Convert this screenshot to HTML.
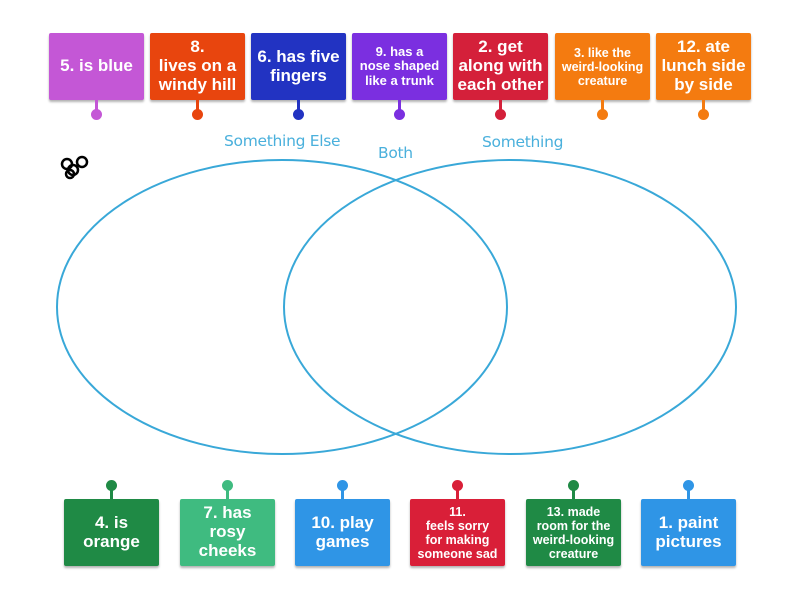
<!DOCTYPE html>
<html><head><style>
body{margin:0;width:800px;height:600px;background:#fff;position:relative;overflow:hidden;font-family:"Liberation Sans",sans-serif}
.c{position:absolute;width:95px;height:67px;color:#fff;font-weight:bold;display:flex;align-items:center;justify-content:center;text-align:center;border-radius:2px;box-shadow:0 2px 2px rgba(0,0,0,.3);line-height:1.1;font-size:17px}
.s{font-size:13px;line-height:1.12}
.xs{font-size:12.5px;line-height:1.12}
.p{position:absolute;width:3px;height:10px}
.d{position:absolute;width:11px;height:11px;border-radius:50%}
.l{position:absolute;color:#4ab0dc;font-size:15.5px;font-family:"DejaVu Sans",sans-serif;letter-spacing:-0.3px}
</style></head><body>
<svg width="800" height="600" style="position:absolute;left:0;top:0">
<ellipse cx="282" cy="307" rx="225" ry="147" fill="none" stroke="#39a8d8" stroke-width="2"/>
<ellipse cx="510" cy="307" rx="226" ry="147" fill="none" stroke="#39a8d8" stroke-width="2"/>
<g fill="none" stroke="#000" stroke-width="2.5"><circle cx="67" cy="164" r="5"/><circle cx="82" cy="162" r="5"/><circle cx="73" cy="170" r="5"/><circle cx="70" cy="174" r="4"/></g>
</svg>
<div class="l" style="left:224px;top:132px">Something Else</div>
<div class="l" style="left:378px;top:144px">Both</div>
<div class="l" style="left:482px;top:133px">Something</div>

<div class="c" style="left:49px;top:33px;background:#c457d6">5. is blue</div>
<div class="c" style="left:150px;top:33px;background:#e8450e">8.<br>lives on a<br>windy hill</div>
<div class="c" style="left:251px;top:33px;background:#2233c2">6. has five<br>fingers</div>
<div class="c s" style="left:352px;top:33px;background:#7b2fe0">9. has a<br>nose shaped<br>like a trunk</div>
<div class="c" style="left:453px;top:33px;background:#d4203a">2. get<br>along with<br>each other</div>
<div class="c xs" style="left:555px;top:33px;background:#f47b10">3. like the<br>weird-looking<br>creature</div>
<div class="c" style="left:656px;top:33px;background:#f47b10">12. ate<br>lunch side<br>by side</div>

<div class="p" style="left:95px;top:100px;background:#c457d6"></div><div class="d" style="left:91px;top:109px;background:#c457d6"></div>
<div class="p" style="left:196px;top:100px;background:#e8450e"></div><div class="d" style="left:192px;top:109px;background:#e8450e"></div>
<div class="p" style="left:297px;top:100px;background:#2233c2"></div><div class="d" style="left:293px;top:109px;background:#2233c2"></div>
<div class="p" style="left:398px;top:100px;background:#7b2fe0"></div><div class="d" style="left:394px;top:109px;background:#7b2fe0"></div>
<div class="p" style="left:499px;top:100px;background:#d4203a"></div><div class="d" style="left:495px;top:109px;background:#d4203a"></div>
<div class="p" style="left:601px;top:100px;background:#f47b10"></div><div class="d" style="left:597px;top:109px;background:#f47b10"></div>
<div class="p" style="left:702px;top:100px;background:#f47b10"></div><div class="d" style="left:698px;top:109px;background:#f47b10"></div>

<div class="c" style="left:64px;top:499px;background:#1f8a45">4. is<br>orange</div>
<div class="c" style="left:180px;top:499px;background:#3fbb80">7. has<br>rosy<br>cheeks</div>
<div class="c" style="left:295px;top:499px;background:#2f95e6">10. play<br>games</div>
<div class="c xs" style="left:410px;top:499px;background:#d91f38">11.<br>feels sorry<br>for making<br>someone sad</div>
<div class="c xs" style="left:526px;top:499px;background:#1f8a45">13. made<br>room for the<br>weird-looking<br>creature</div>
<div class="c" style="left:641px;top:499px;background:#2f95e6">1. paint<br>pictures</div>

<div class="p" style="left:110px;top:489px;background:#1f8a45"></div><div class="d" style="left:106px;top:480px;background:#1f8a45"></div>
<div class="p" style="left:226px;top:489px;background:#3fbb80"></div><div class="d" style="left:222px;top:480px;background:#3fbb80"></div>
<div class="p" style="left:341px;top:489px;background:#2f95e6"></div><div class="d" style="left:337px;top:480px;background:#2f95e6"></div>
<div class="p" style="left:456px;top:489px;background:#d91f38"></div><div class="d" style="left:452px;top:480px;background:#d91f38"></div>
<div class="p" style="left:572px;top:489px;background:#1f8a45"></div><div class="d" style="left:568px;top:480px;background:#1f8a45"></div>
<div class="p" style="left:687px;top:489px;background:#2f95e6"></div><div class="d" style="left:683px;top:480px;background:#2f95e6"></div>
</body></html>
